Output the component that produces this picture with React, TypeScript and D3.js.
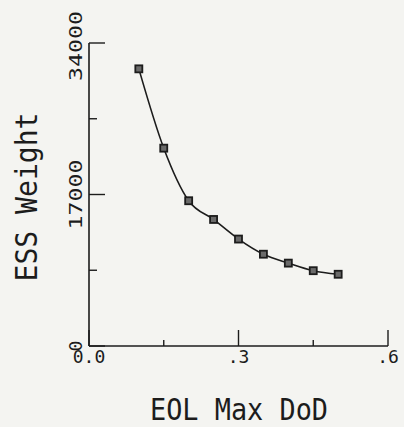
import React from "react";
import * as d3 from "d3";

const dod = [0.1, 0.15, 0.2, 0.25, 0.3, 0.35, 0.4, 0.45, 0.5];
const essWeight = [31100, 22200, 16300, 14200, 12000, 10300, 9300, 8450, 8050];
const xTicks = [0, 0.15, 0.3, 0.45, 0.6];
const xTickLabels = ["0.0", "", ".3", "", ".6"];
const yTicks = [0, 8500, 17000, 25500, 34000];
const yTickLabels = ["0", "", "17000", "", "34000"];

const W = 404;
const H = 427;
const FONT = "'DejaVu Sans Mono', 'Liberation Mono', monospace";
const INK = "#1c1c1c";

export default function App() {
  const x = d3.scaleLinear().domain([0, 0.6]).range([89, 388]);
  const y = d3.scaleLinear().domain([0, 34000]).range([346, 43]);
  const pts = dod.map((d, i) => [x(d), y(essWeight[i])] as [number, number]);
  const line = d3.line().curve(d3.curveMonotoneX)(pts) || "";

  return (
    <svg
      width={W}
      height={H}
      style={{ position: "absolute", left: 0, top: 0, background: "#f4f4f1" }}
    >
      <rect x={0} y={0} width={W} height={H} fill="#f4f4f1" />
      {/* axes */}
      <line x1={x(0)} x2={x(0)} y1={y(0)} y2={y(34000)} stroke={INK} strokeWidth={1.6} />
      <line x1={x(0)} x2={x(0.6)} y1={y(0)} y2={y(0)} stroke={INK} strokeWidth={1.6} />
      {yTicks.map((t, i) => (
        <g key={"yt" + i}>
          <line
            x1={x(0)}
            x2={x(0) + (yTickLabels[i] ? 16 : 8)}
            y1={y(t)}
            y2={y(t)}
            stroke={INK}
            strokeWidth={1.4}
          />
          {yTickLabels[i] && (
            <text
              transform={`translate(82,${y(t) + (t === 34000 ? 3 : 0)}) rotate(-90)`}
              textAnchor="middle"
              fontFamily={FONT}
              fontSize={18}
              fill={INK}
              textLength={yTickLabels[i].length > 1 ? 70 : undefined}
              lengthAdjust="spacingAndGlyphs"
            >
              {yTickLabels[i]}
            </text>
          )}
        </g>
      ))}
      {xTicks.map((t, i) => (
        <g key={"xt" + i}>
          <line
            x1={x(t)}
            x2={x(t)}
            y1={y(0)}
            y2={y(0) - (xTickLabels[i] ? 16 : 6)}
            stroke={INK}
            strokeWidth={1.4}
          />
          {xTickLabels[i] && (
            <text
              x={x(t)}
              y={363}
              textAnchor="middle"
              fontFamily={FONT}
              fontSize={18}
              fill={INK}
            >
              {xTickLabels[i]}
            </text>
          )}
        </g>
      ))}
      {/* curve */}
      <path d={line} fill="none" stroke={INK} strokeWidth={1.6} />
      {pts.map((p, i) => (
        <rect
          key={"m" + i}
          x={p[0] - 3.5}
          y={p[1] - 3.5}
          width={7}
          height={7}
          fill="#6a6a6a"
          stroke={INK}
          strokeWidth={1.8}
        />
      ))}
      {/* axis titles */}
      <text
        x={239}
        y={420}
        textAnchor="middle"
        fontFamily={FONT}
        fontSize={30}
        fill={INK}
        textLength={178}
        lengthAdjust="spacingAndGlyphs"
      >
        EOL Max DoD
      </text>
      <text
        transform="translate(37,197) rotate(-90)"
        textAnchor="middle"
        fontFamily={FONT}
        fontSize={30}
        fill={INK}
        textLength={169}
        lengthAdjust="spacingAndGlyphs"
      >
        ESS Weight
      </text>
    </svg>
  );
}
